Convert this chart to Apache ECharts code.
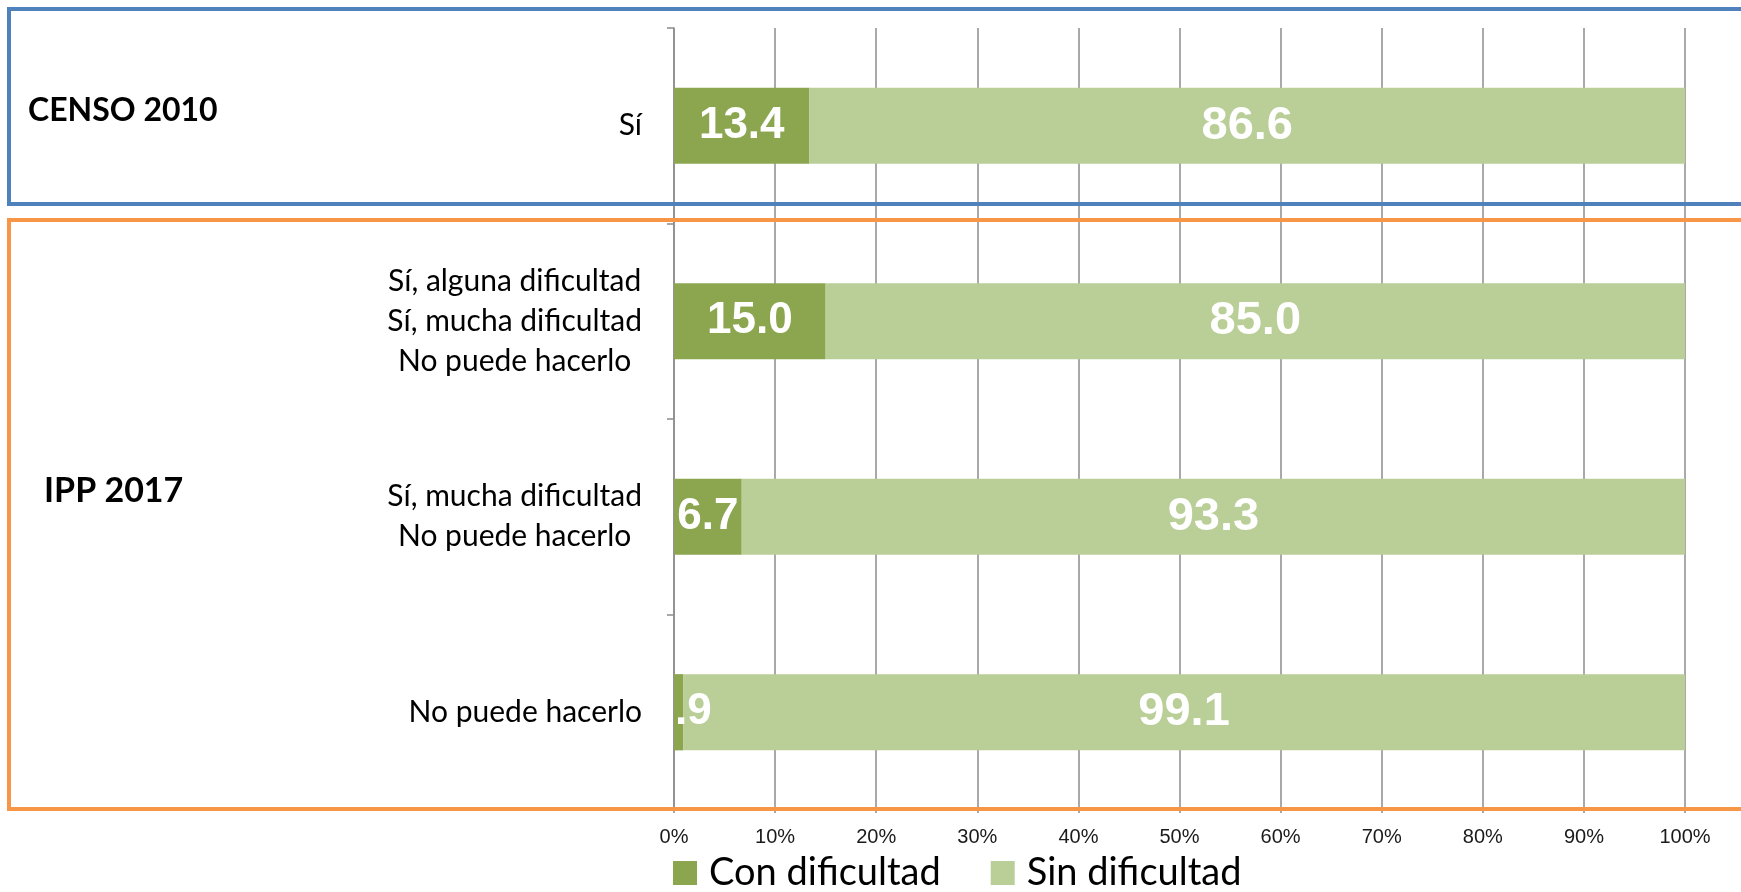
<!DOCTYPE html>
<html>
<head>
<meta charset="utf-8">
<script src="https://cdn.jsdelivr.net/npm/echarts@6/dist/echarts.min.js"></script>
<style>
  html, body { margin: 0; padding: 0; background: #fff; }
  #chart { width: 1741px; height: 892px; }
</style>
</head>
<body>
<div id="chart"></div>
<script>
// categories, top to bottom
var categories = [
  'Sí',
  'Sí, alguna dificultad\nSí, mucha dificultad\nNo puede hacerlo',
  'Sí, mucha dificultad\nNo puede hacerlo',
  'No puede hacerlo'
];
var conDificultad = [13.4, 15.0, 6.7, 0.9];
var sinDificultad = [86.6, 85.0, 93.3, 99.1];
var seriesNames = ['Con dificultad', 'Sin dificultad'];
var groupNames = ['CENSO 2010', 'IPP 2017'];

var DARK = '#8ba64f';
var LIGHT = '#bacf97';
var GRIDC = '#8c8c8c';

// excel style "#.0" number format
function fmt(v) {
  var s = v.toFixed(1);
  return s.charAt(0) === '0' ? s.slice(1) : s;
}

function barLabel(size) {
  return {
    show: true,
    position: 'inside',
    color: '#fff',
    fontFamily: 'Liberation Sans, Arial, sans-serif',
    fontWeight: 'bold',
    fontSize: size,
    formatter: function(p) { return fmt(p.value); }
  };
}

function makeData(values) {
  return values.map(function(v) {
    // very thin segments: the label sits against the base
    if (v < 3) {
      return {value: v, label: {position: 'insideLeft', distance: 1}};
    }
    return v;
  });
}

var chart = echarts.init(document.getElementById('chart'));
chart.setOption({
  animation: false,
  grid: {left: 674, right: 56, top: 28, bottom: 82},
  legend: {
    left: 673, top: 854, padding: 0,
    itemWidth: 24, itemHeight: 24, itemGap: 50,
    icon: 'rect',
    data: seriesNames,
    textStyle: {fontFamily: 'Lato, sans-serif', fontSize: 38, color: '#000', padding: [0, 0, 0, 7]}
  },
  xAxis: {
    type: 'value', min: 0, max: 100, interval: 10,
    axisLine: {show: false},
    axisTick: {show: true, length: 3, lineStyle: {color: GRIDC, width: 1.5}},
    splitLine: {show: true, lineStyle: {color: GRIDC, width: 1.5}},
    axisLabel: {
      formatter: '{value}%', margin: 17,
      fontFamily: 'Liberation Sans, Arial, sans-serif', fontSize: 20, color: '#1a1a1a'
    }
  },
  yAxis: {
    type: 'category', inverse: true, data: categories,
    axisLine: {show: true, lineStyle: {color: GRIDC, width: 1.5}},
    axisTick: {show: true, length: 7, lineStyle: {color: GRIDC, width: 1.5}},
    splitLine: {show: false},
    axisLabel: {
      margin: 32, align: 'right',
      formatter: function(v) {
        return v.split('\n').map(function(l) { return '{c|' + l + '}'; }).join('\n');
      },
      rich: {
        c: {align: 'center', fontFamily: 'Lato, sans-serif', fontSize: 30, lineHeight: 40, color: '#000'}
      }
    }
  },
  series: [
    {
      name: seriesNames[0], type: 'bar', stack: 'all', barWidth: '39%',
      itemStyle: {color: DARK}, label: barLabel(44), data: makeData(conDificultad)
    },
    {
      name: seriesNames[1], type: 'bar', stack: 'all', barWidth: '39%',
      itemStyle: {color: LIGHT}, label: barLabel(47), data: makeData(sinDificultad)
    }
  ],
  graphic: [
    {type: 'rect', z: 100, silent: true,
      shape: {x: 9, y: 9, width: 1800, height: 195},
      style: {fill: null, stroke: '#4f81bd', lineWidth: 4}},
    {type: 'rect', z: 100, silent: true,
      shape: {x: 9, y: 220, width: 1800, height: 589},
      style: {fill: null, stroke: '#f79646', lineWidth: 4}},
    {type: 'text', z: 100, left: 28, top: 95,
      style: {text: groupNames[0], fontFamily: 'Lato, sans-serif', fontWeight: 'bold', fontSize: 32, fill: '#000'}},
    {type: 'text', z: 100, left: 44, top: 474,
      style: {text: groupNames[1], fontFamily: 'Lato, sans-serif', fontWeight: 'bold', fontSize: 34, fill: '#000'}}
  ]
});
</script>
</body>
</html>
